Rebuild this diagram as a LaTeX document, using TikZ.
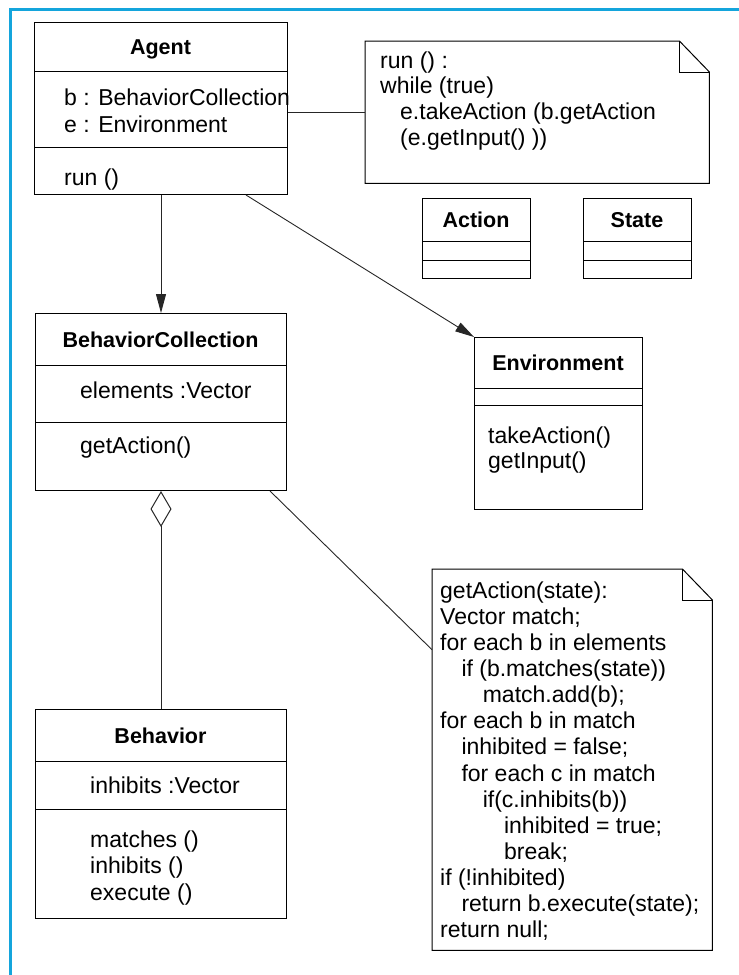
\documentclass[tikz,border=0pt]{standalone}
\usepackage{fontspec}
\setmainfont{Liberation Sans}
\usetikzlibrary{arrows.meta,calc}
\tikzset{
  box-line/.style={
    draw=black,
    line width=1pt
  },
  class-box/.style={
    box-line,
    anchor=north west,
    inner sep=0pt
  },
  note-box/.style={anchor=north west, inner sep=0pt},
  class-title/.style={font=\fontsize{21.5}{24}\selectfont\bfseries, anchor=base, inner sep=0pt},
  member/.style={font=\fontsize{23}{26}\selectfont, anchor=base west, inner sep=0pt},
  link/.style={line width=0.9pt, draw=black!85},
  uml-arrow/.style={link, -{Triangle[length=19pt, width=10pt]}},
  aggregation/.style={link, {Diamond[open, length=36pt, width=21pt, line width=1pt]}-},
  frame-line/.style={line width=3pt, draw=frameblue}
}
\definecolor{frameblue}{RGB}{20,165,220}
% name, x, y, width, height, first rule, second rule, title
\newcommand{\umlclass}[8]{
  \node[class-box, minimum width=#4pt, minimum height=#5pt] (#1) at (#2,#3) {};
  \draw[box-line] (#1.west |- 0,#6) -- (#1.east |- 0,#6);
  \draw[box-line] (#1.west |- 0,#7) -- (#1.east |- 0,#7);
  \node[class-title] (#1-title) at ({#2+#4/2}, {(#3+#6)/2+8}) {#8};
}
% name, x, y, width, height
\newcommand{\umlnote}[5]{
  \node[note-box, minimum width=#4pt, minimum height=#5pt] (#1) at (#2,#3) {};
  \draw[box-line] (#1.north west) -- ([xshift=-30pt]#1.north east) -- ([yshift=-31pt]#1.north east)
    -- (#1.south east) -- (#1.south west) -- cycle;
  \draw[box-line] ([xshift=-30pt]#1.north east) |- ([yshift=-31pt]#1.north east);
}

\begin{document}
\begin{tikzpicture}[x=1pt, y=-1pt]
  \useasboundingbox (0,0) rectangle (739,975);
  % Frame
  \draw[frame-line] (10,975) -- (10,9) -- (739,9);

  % Classes
  \umlclass{agent}{34}{22}{253}{172}{71}{147}{Agent}
  \umlclass{action}{422}{198}{108}{80}{241}{260}{Action}
  \umlclass{state}{583}{198}{108}{80}{241}{260}{State}
  \umlclass{bc}{35}{313}{251}{177}{365}{422}{BehaviorCollection}
  \umlclass{env}{474}{337}{168}{172}{388}{405}{Environment}
  \umlclass{beh}{35}{709}{251}{209}{761}{809}{Behavior}

  % Members
  \node[member] (agent-b) at (64,105) {b : BehaviorCollection};
  \node[member] (agent-e) at (64,132) {e : Environment};
  \node[member] (agent-run) at (64,185) {run ()};
  \node[member] (bc-elements) at (80,398) {elements :Vector};
  \node[member] (bc-get) at (80,453) {getAction()};
  \node[member] (env-take) at (488,443) {takeAction()};
  \node[member] (env-input) at (488,468) {getInput()};
  \node[member] (beh-inhibits) at (90,793) {inhibits :Vector};
  \foreach \txt [count=\i from 0] in {matches (), inhibits (), execute ()}
    \node[member] (beh-m\i) at (90, {847+26.5*\i}) {\txt};

  % Notes
  \umlnote{note1}{365}{41}{344}{142}
  \foreach \ind/\txt [count=\i from 0] in {0/run () :, 0/while (true), 1/e.takeAction (b.getAction, 1/(e.getInput() ))}
    \node[member] (note1-l\i) at ({380+20*\ind}, {68+25.7*\i}) {\txt};

  \umlnote{note2}{432}{569}{280}{381}
  \foreach \ind/\txt [count=\i from 0] in {
      0/getAction(state):, 0/Vector match;, 0/for each b in elements,
      1/if (b.matches(state)), 2/match.add(b);, 0/for each b in match,
      1/inhibited = false;, 1/for each c in match, 2/if(c.inhibits(b)),
      3/inhibited = true;, 3/break;, 0/if (!inhibited),
      1/return b.execute(state);, 0/return null;}
    \node[member] (note2-l\i) at ({440+21.3*\ind}, {598+26.15*\i}) {\txt};

  % Connectors
  \draw[uml-arrow] (agent.south) -- (bc.north);
  \draw[uml-arrow] ([xshift=-42pt]agent.south east) -- (env.north west);
  \draw[link] (agent.east |- note1.west) -- (note1.west);
  \draw[aggregation] (bc.south) -- (beh.north);
  \draw[link] ([xshift=-17pt]bc.south east) -- ([yshift=110pt]note2.west);
\end{tikzpicture}
\end{document}
